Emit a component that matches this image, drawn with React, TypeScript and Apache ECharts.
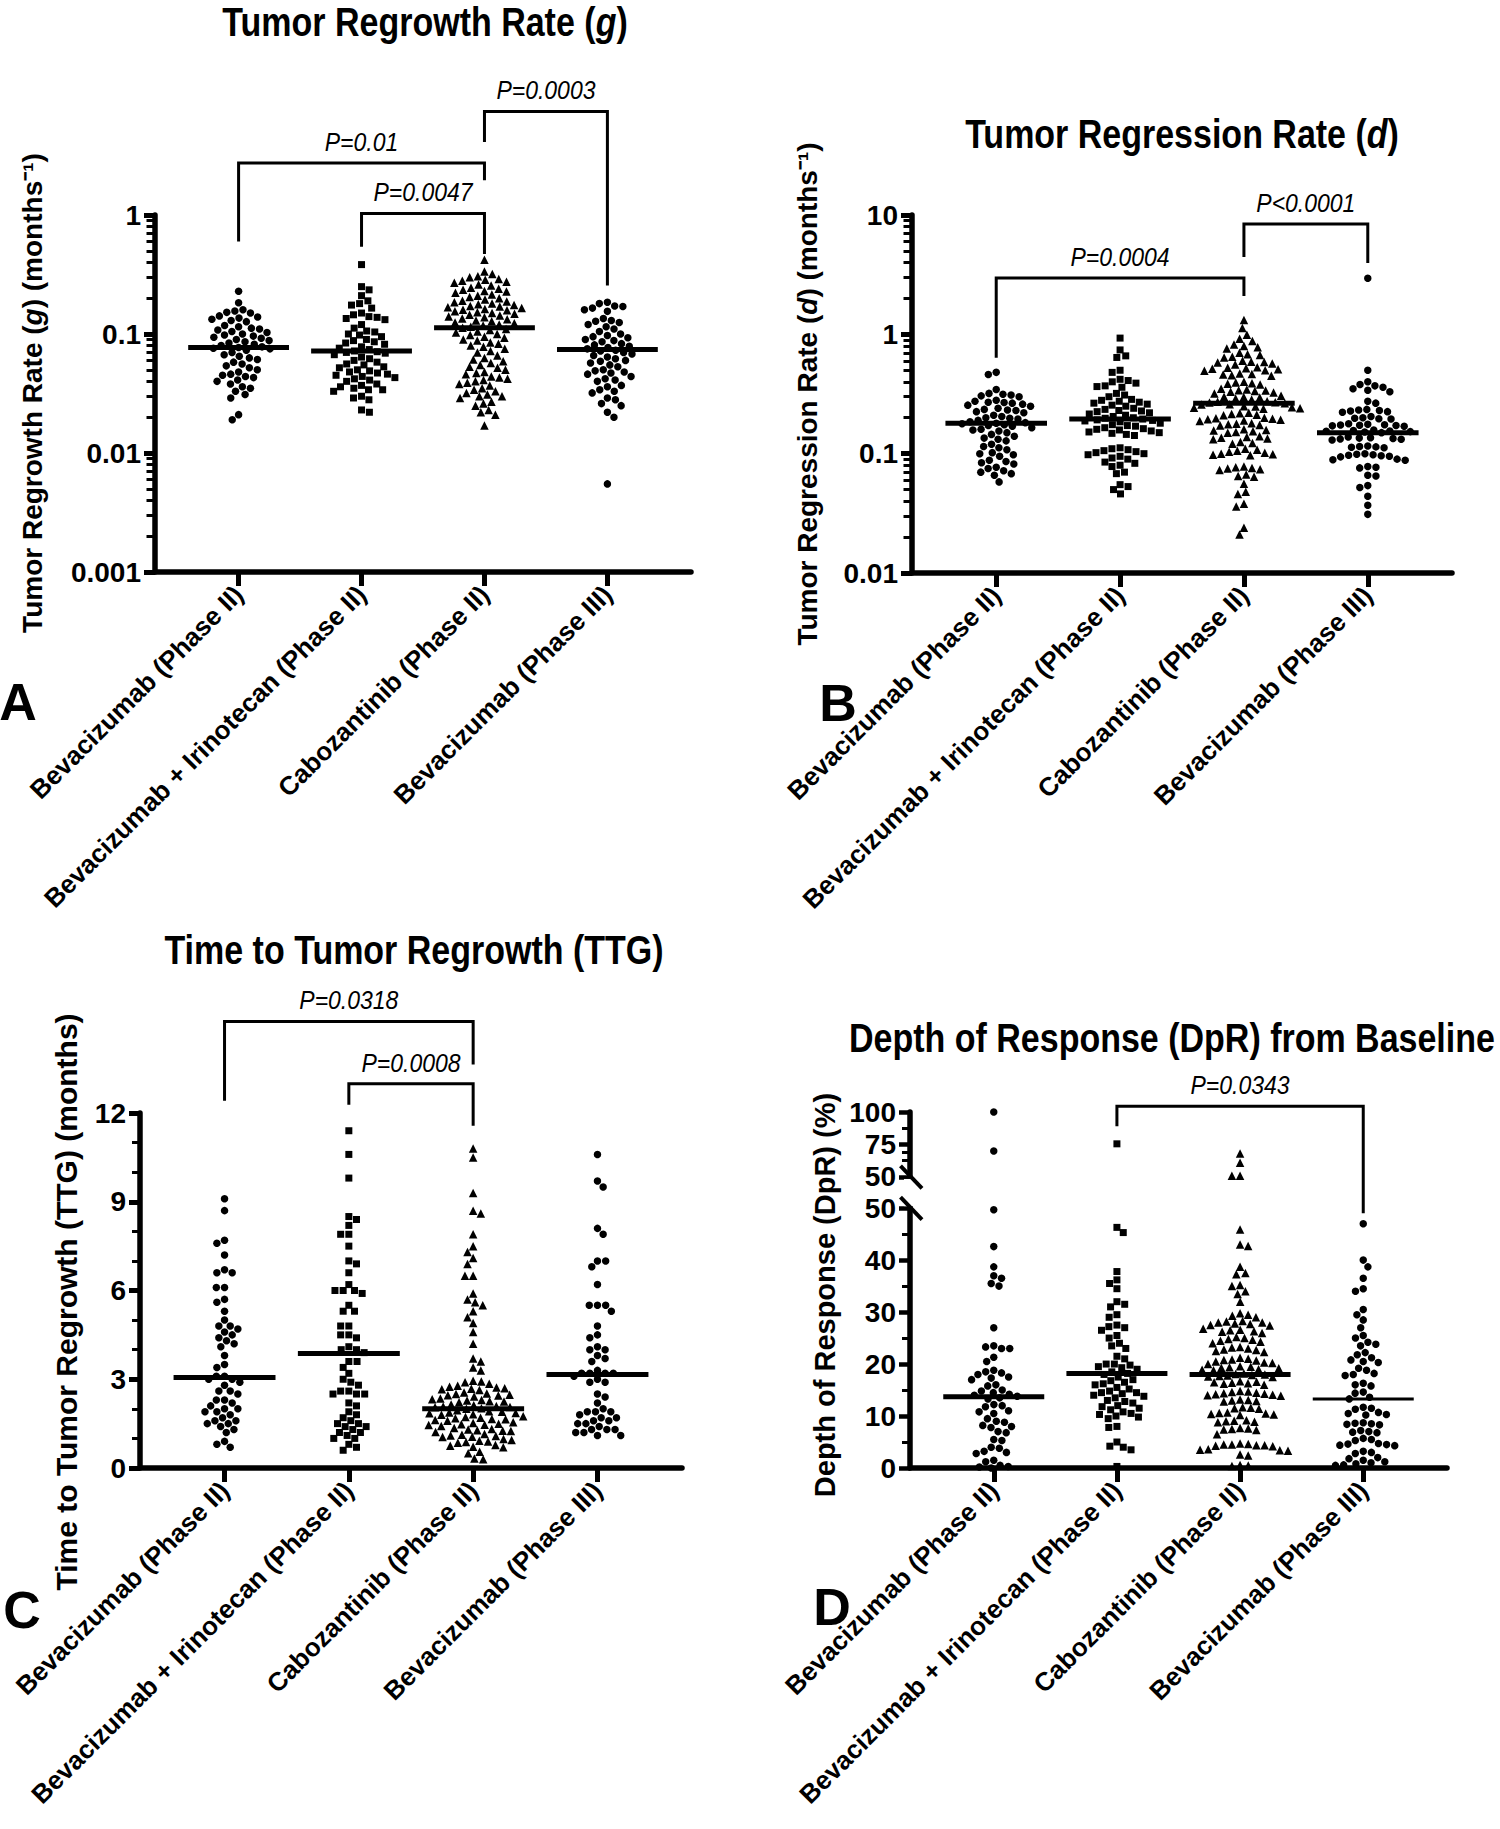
import React, { useEffect, useRef } from 'react';
import * as echarts from 'echarts';

// ---------- categories & tick labels ----------
const categories = [
  'Bevacizumab (Phase II)',
  'Bevacizumab + Irinotecan (Phase II)',
  'Cabozantinib (Phase II)',
  'Bevacizumab (Phase III)',
];
const groupSymbols = ['circle', 'rect', 'triangle', 'circle'];
const groupSymbolSizes = [7.5, 7, 8.5, 7.5];

const regrowthTickLabels = ['0.001', '0.01', '0.1', '1'];
const regressionTickLabels = ['0.01', '0.1', '1', '10'];
const ttgMinorTicks = [1, 2, 4, 5, 7, 8, 10, 11];
const dprLowerLabels = [0, 10, 20, 30, 40, 50];
const dprLowerMinor = [5, 15, 25, 35, 45];
const dprUpperLabels = [50, 75, 100];
const dprUpperMinor = [62.5, 68.75, 87.5];

// ---------- A: Tumor regrowth rate g (months^-1) ----------
const regrowthBevII = [0.229, 0.183, 0.16, 0.156, 0.152, 0.15, 0.142, 0.139, 0.136, 0.133, 0.13, 0.127, 0.118, 0.115, 0.112, 0.11, 0.108, 0.105, 0.103, 0.1, 0.098, 0.096, 0.094, 0.092, 0.09, 0.088, 0.086, 0.084, 0.082, 0.08, 0.078, 0.077, 0.076, 0.075, 0.073, 0.07, 0.067, 0.065, 0.063, 0.061, 0.058, 0.056, 0.054, 0.052, 0.05, 0.048, 0.046, 0.045, 0.044, 0.043, 0.041, 0.04, 0.038, 0.036, 0.035, 0.033, 0.031, 0.029, 0.021, 0.019];
const regrowthBevIri = [0.383, 0.25, 0.235, 0.21, 0.19, 0.18, 0.175, 0.165, 0.15, 0.145, 0.14, 0.138, 0.135, 0.132, 0.12, 0.112, 0.106, 0.104, 0.1, 0.098, 0.095, 0.09, 0.088, 0.086, 0.084, 0.082, 0.078, 0.076, 0.074, 0.072, 0.071, 0.07, 0.069, 0.067, 0.064, 0.062, 0.06, 0.058, 0.056, 0.055, 0.053, 0.052, 0.05, 0.049, 0.048, 0.047, 0.046, 0.045, 0.044, 0.043, 0.042, 0.041, 0.04, 0.038, 0.037, 0.036, 0.035, 0.034, 0.034, 0.033, 0.03, 0.029, 0.028, 0.023, 0.022];
const regrowthCabo = [0.42, 0.335, 0.32, 0.305, 0.3, 0.29, 0.285, 0.28, 0.275, 0.27, 0.26, 0.255, 0.245, 0.24, 0.235, 0.23, 0.228, 0.222, 0.215, 0.21, 0.205, 0.2, 0.195, 0.19, 0.188, 0.185, 0.18, 0.178, 0.175, 0.172, 0.17, 0.168, 0.165, 0.162, 0.16, 0.158, 0.155, 0.152, 0.15, 0.148, 0.145, 0.143, 0.14, 0.138, 0.135, 0.133, 0.13, 0.128, 0.125, 0.123, 0.12, 0.118, 0.115, 0.113, 0.11, 0.108, 0.105, 0.103, 0.1, 0.098, 0.095, 0.093, 0.09, 0.088, 0.085, 0.083, 0.08, 0.078, 0.075, 0.072, 0.07, 0.066, 0.063, 0.061, 0.059, 0.057, 0.055, 0.053, 0.052, 0.05, 0.048, 0.047, 0.046, 0.044, 0.043, 0.042, 0.041, 0.04, 0.039, 0.038, 0.037, 0.035, 0.034, 0.033, 0.032, 0.031, 0.03, 0.03, 0.029, 0.027, 0.026, 0.025, 0.023, 0.022, 0.021, 0.017];
const regrowthBevIII = [0.185, 0.18, 0.172, 0.17, 0.165, 0.16, 0.155, 0.135, 0.13, 0.128, 0.125, 0.12, 0.115, 0.11, 0.105, 0.1, 0.097, 0.095, 0.093, 0.09, 0.088, 0.086, 0.083, 0.081, 0.079, 0.077, 0.075, 0.073, 0.072, 0.07, 0.068, 0.066, 0.064, 0.062, 0.06, 0.059, 0.057, 0.055, 0.053, 0.05, 0.049, 0.048, 0.047, 0.046, 0.044, 0.042, 0.041, 0.04, 0.037, 0.036, 0.034, 0.033, 0.032, 0.029, 0.028, 0.026, 0.025, 0.022, 0.02, 0.0055];
const regrowthMedians = [0.077, 0.072, 0.113, 0.074];

// ---------- B: Tumor regression rate d (months^-1) ----------
const regressionBevII = [0.48, 0.46, 0.345, 0.32, 0.315, 0.31, 0.305, 0.3, 0.28, 0.275, 0.27, 0.268, 0.265, 0.26, 0.255, 0.25, 0.24, 0.235, 0.232, 0.23, 0.225, 0.22, 0.21, 0.205, 0.2, 0.198, 0.195, 0.19, 0.185, 0.182, 0.18, 0.178, 0.175, 0.172, 0.17, 0.165, 0.16, 0.158, 0.155, 0.15, 0.145, 0.14, 0.135, 0.132, 0.128, 0.12, 0.115, 0.112, 0.108, 0.102, 0.1, 0.098, 0.095, 0.088, 0.086, 0.084, 0.082, 0.077, 0.075, 0.072, 0.07, 0.068, 0.066, 0.058];
const regressionBevIri = [0.93, 0.74, 0.66, 0.64, 0.5, 0.48, 0.42, 0.41, 0.4, 0.39, 0.37, 0.365, 0.36, 0.32, 0.31, 0.3, 0.285, 0.28, 0.275, 0.27, 0.265, 0.26, 0.255, 0.25, 0.24, 0.235, 0.23, 0.228, 0.225, 0.22, 0.215, 0.21, 0.205, 0.2, 0.198, 0.195, 0.192, 0.19, 0.188, 0.185, 0.18, 0.175, 0.172, 0.17, 0.165, 0.162, 0.16, 0.158, 0.155, 0.152, 0.15, 0.148, 0.145, 0.142, 0.112, 0.11, 0.108, 0.106, 0.104, 0.102, 0.1, 0.098, 0.095, 0.092, 0.09, 0.085, 0.083, 0.08, 0.078, 0.07, 0.068, 0.055, 0.053, 0.05, 0.046];
const regressionCabo = [1.32, 1.13, 0.99, 0.92, 0.88, 0.82, 0.8, 0.78, 0.76, 0.7, 0.68, 0.67, 0.65, 0.64, 0.6, 0.59, 0.585, 0.58, 0.57, 0.56, 0.53, 0.525, 0.52, 0.515, 0.51, 0.5, 0.495, 0.47, 0.465, 0.46, 0.455, 0.45, 0.4, 0.395, 0.39, 0.385, 0.38, 0.35, 0.345, 0.34, 0.338, 0.335, 0.33, 0.325, 0.32, 0.305, 0.3, 0.298, 0.295, 0.29, 0.285, 0.275, 0.272, 0.27, 0.268, 0.265, 0.26, 0.258, 0.25, 0.248, 0.245, 0.242, 0.24, 0.238, 0.22, 0.218, 0.215, 0.212, 0.21, 0.2, 0.198, 0.196, 0.194, 0.192, 0.19, 0.188, 0.18, 0.178, 0.176, 0.174, 0.172, 0.16, 0.158, 0.156, 0.154, 0.152, 0.15, 0.14, 0.138, 0.136, 0.134, 0.132, 0.125, 0.123, 0.121, 0.11, 0.108, 0.106, 0.104, 0.102, 0.1, 0.099, 0.098, 0.097, 0.078, 0.077, 0.076, 0.075, 0.074, 0.073, 0.067, 0.065, 0.064, 0.056, 0.048, 0.046, 0.038, 0.036, 0.024, 0.021];
const regressionBevIII = [2.95, 0.5, 0.4, 0.38, 0.37, 0.36, 0.35, 0.34, 0.33, 0.275, 0.265, 0.235, 0.232, 0.23, 0.228, 0.225, 0.222, 0.205, 0.2, 0.198, 0.196, 0.195, 0.178, 0.176, 0.175, 0.174, 0.173, 0.172, 0.171, 0.17, 0.158, 0.156, 0.155, 0.154, 0.153, 0.152, 0.15, 0.138, 0.136, 0.135, 0.134, 0.133, 0.132, 0.13, 0.116, 0.115, 0.114, 0.113, 0.112, 0.1, 0.099, 0.098, 0.097, 0.096, 0.095, 0.094, 0.09, 0.089, 0.088, 0.078, 0.077, 0.076, 0.066, 0.065, 0.054, 0.052, 0.044, 0.037, 0.031];
const regressionMedians = [0.18, 0.195, 0.265, 0.15];

// ---------- C: Time to tumor regrowth (months) ----------
const ttgBevII = [9.1, 8.7, 7.7, 7.6, 7.2, 6.7, 6.6, 6.6, 6.1, 6.1, 5.7, 5.6, 5.3, 5.0, 4.8, 4.8, 4.7, 4.6, 4.5, 4.4, 4.3, 4.2, 4.1, 3.8, 3.5, 3.4, 3.1, 3.1, 3.0, 3.0, 2.9, 2.8, 2.6, 2.6, 2.5, 2.3, 2.3, 2.2, 2.1, 2.0, 2.0, 1.9, 1.9, 1.8, 1.7, 1.6, 1.6, 1.5, 1.5, 1.4, 1.3, 1.2, 0.9, 0.8, 0.7];
const ttgBevIri = [11.4, 10.6, 9.8, 8.5, 8.4, 8.2, 7.9, 7.9, 7.5, 7.0, 6.9, 6.6, 6.2, 6.0, 6.0, 6.0, 5.9, 5.5, 5.3, 5.3, 4.8, 4.8, 4.5, 4.5, 4.4, 4.1, 4.0, 4.0, 3.9, 3.6, 3.6, 3.4, 3.2, 3.0, 2.9, 2.8, 2.6, 2.6, 2.5, 2.5, 2.5, 2.2, 2.1, 1.9, 1.8, 1.7, 1.6, 1.5, 1.5, 1.4, 1.4, 1.3, 1.2, 1.2, 1.1, 1.0, 1.0, 0.8, 0.7, 0.6];
const ttgCabo = [10.8, 10.5, 9.3, 8.7, 8.6, 7.9, 7.5, 7.3, 7.1, 6.9, 6.5, 6.5, 5.9, 5.7, 5.6, 5.5, 5.3, 5.1, 4.9, 4.6, 4.2, 3.7, 3.6, 3.4, 3.3, 2.95, 2.92, 2.9, 2.85, 2.78, 2.75, 2.72, 2.7, 2.68, 2.66, 2.64, 2.55, 2.52, 2.5, 2.48, 2.46, 2.45, 2.42, 2.35, 2.32, 2.3, 2.28, 2.26, 2.25, 2.22, 2.15, 2.12, 2.1, 2.08, 2.06, 2.05, 2.02, 2.0, 1.95, 1.92, 1.9, 1.88, 1.86, 1.85, 1.82, 1.8, 1.75, 1.72, 1.7, 1.68, 1.66, 1.65, 1.62, 1.6, 1.55, 1.52, 1.5, 1.48, 1.46, 1.45, 1.42, 1.35, 1.32, 1.3, 1.28, 1.26, 1.25, 1.22, 1.15, 1.12, 1.1, 1.08, 1.06, 1.05, 0.98, 0.95, 0.92, 0.9, 0.88, 0.85, 0.78, 0.75, 0.72, 0.7, 0.55, 0.5, 0.32, 0.3];
const ttgBevIII = [10.6, 9.7, 9.5, 8.1, 7.9, 7.0, 7.0, 6.8, 6.2, 5.5, 5.5, 5.5, 5.3, 4.8, 4.5, 4.4, 4.1, 4.0, 4.0, 3.8, 3.7, 3.6, 3.3, 3.2, 3.2, 3.2, 3.2, 3.1, 3.0, 2.9, 2.9, 2.5, 2.4, 2.2, 2.0, 1.9, 1.9, 1.9, 1.8, 1.7, 1.7, 1.6, 1.6, 1.5, 1.5, 1.4, 1.3, 1.3, 1.3, 1.2, 1.2, 1.1, 1.1];
const ttgMedians = [3.06, 3.87, 2.0, 3.16];

// ---------- D: Depth of response (%) ----------
const dprBevII = [100, 70, 49.7, 42.6, 38.7, 37, 36.5, 35.5, 35, 27, 23.5, 23.3, 23, 23, 21.3, 20.5, 18.8, 18.5, 18.3, 18, 17.5, 17.3, 17, 16, 15.8, 15, 14.8, 14.5, 14.2, 14, 13.8, 13.5, 13.3, 12.2, 12, 11.8, 11, 10.8, 10.5, 9.5, 9, 8.8, 8.2, 8, 7.8, 7, 6.8, 5.5, 5.3, 4, 3.8, 3.2, 3, 2.8, 1.5, 1.2, 0.5, 0.3, 0.2, 0];
const dprBevIri = [75.5, 46.3, 45.3, 37.8, 36.2, 35.5, 34.5, 32, 31.5, 31, 29.5, 29, 27.5, 27.2, 27, 26.5, 25.5, 25, 24, 23.5, 23, 21.5, 21, 20, 20, 19.8, 19.5, 19.3, 19, 18.5, 18.2, 18, 17.5, 17, 16.8, 16.5, 16.2, 16, 15.5, 15.2, 14.8, 14.5, 14.5, 14.3, 14, 13.8, 13.5, 13, 12.8, 12.5, 12, 11.8, 11.5, 11.2, 10.8, 10.5, 10.3, 10, 9.8, 9.5, 8, 7.8, 5, 4.2, 4, 3.5, 0.3];
const dprCabo = [68, 61, 51, 51, 45.9, 43, 42.7, 38.7, 37.5, 37.3, 35.2, 35, 34, 33.5, 32, 29.8, 29.5, 29.3, 29, 28.3, 28.2, 28, 28, 27.8, 27.7, 27.5, 27.4, 26.8, 26.6, 26.5, 26.3, 26.2, 26, 25.2, 25, 24.8, 24.7, 24.5, 24.3, 24, 23.3, 23.2, 23, 22.8, 22.7, 22.5, 22.3, 21.2, 21, 20.9, 20.8, 20.7, 20.5, 20.3, 20.2, 20, 19.6, 19.5, 19.4, 19.3, 19.2, 19, 18.9, 18.8, 18.2, 18.1, 18, 17.9, 17.8, 17.7, 17.6, 17.5, 16.7, 16.6, 16.5, 16.4, 16.3, 16.2, 16, 14.8, 14.7, 14.6, 14.5, 14.4, 14.3, 14.2, 14.1, 14, 13.9, 13.2, 13.1, 13, 12.9, 12.8, 11.7, 11.6, 11.5, 11.4, 10.7, 10.6, 10.5, 10.4, 10.3, 10.2, 9.2, 9.1, 9, 8.9, 8.8, 7.7, 7.6, 7.5, 7.4, 7.3, 6.5, 4.7, 4.6, 4.5, 4.5, 4.4, 4.4, 4.3, 4.2, 3.6, 3.5, 3.4, 3.3, 2.6, 2.4, 0.6, 0.5, 0.4];
const dprBevIII = [47, 40, 38.7, 36.5, 34.5, 34, 30.5, 29.5, 28.5, 27, 25.5, 25, 24.2, 23.8, 23.5, 22.2, 21.8, 21.2, 20.8, 20.5, 20.3, 19.2, 18.8, 18.2, 18, 17.8, 16.3, 16, 15.8, 14.6, 14.4, 13.6, 13.3, 11.7, 11.5, 11.3, 10.7, 10.5, 10.3, 10.2, 8.7, 8.6, 8.5, 8.4, 8.3, 7.2, 7, 6.9, 6.8, 5.7, 5.5, 5.3, 4.7, 4.6, 4.5, 4.4, 4.3, 3.2, 3, 2.8, 2, 1.8, 1.5, 1.2, 1, 0.8, 0.6, 0.5];
const dprMedians = [13.7, 18.2, 18.0, 13.3];

// ---------- significance brackets (y in data units) ----------
const regrowthBrackets = [
  { from: 0, to: 2, top: 2.73, leftEnd: 0.6, rightEnd: 1.96, label: 'P=0.01' },
  { from: 1, to: 2, top: 1.03, leftEnd: 0.54, rightEnd: 0.47, label: 'P=0.0047' },
  { from: 2, to: 3, top: 7.4, leftEnd: 4.1, rightEnd: 0.255, label: 'P=0.0003' },
];
const regressionBrackets = [
  { from: 0, to: 2, top: 2.97, leftEnd: 0.636, rightEnd: 2.1, label: 'P=0.0004' },
  { from: 2, to: 3, top: 8.4, leftEnd: 4.45, rightEnd: 3.96, label: 'P<0.0001' },
];
const ttgBrackets = [
  { from: 0, to: 2, top: 15.09, leftEnd: 12.41, rightEnd: 13.64, label: 'P=0.0318' },
  { from: 1, to: 2, top: 12.99, leftEnd: 12.28, rightEnd: 11.57, label: 'P=0.0008' },
];
const dprBrackets = [
  { from: 1, to: 3, top: 104.4, leftEnd: 89, rightEnd: 49, label: 'P=0.0343' },
];

// ---------- styling ----------
const SANS = "'Liberation Sans', Arial, Helvetica, sans-serif";
const X_MIN = -0.68;
const X_MAX = 3.68;

// broken axis for panel D: 0-50 linear, then 50-100 compressed above a gap
const DPR_BREAK = 56;
const dprUpper = (v: number) => DPR_BREAK + (v - 50) * 0.25;
const dprScale = (v: number) => (v <= 50 ? v : dprUpper(v));
const dprUnscale = (d: number) => (d <= 50.001 ? d : 50 + (d - DPR_BREAK) / 0.25);

const logMinor = (lo: number, hi: number) => {
  const out: number[] = [];
  for (let d = lo; d < hi; d++) for (let k = 2; k <= 9; k++) out.push(d + Math.log10(k));
  return out;
};

interface Panel {
  grid: { left: number; top: number; width: number; height: number };
  yMin: number;
  yMax: number;
  tf: (v: number) => number;
  groups: number[][];
  medians: number[];
  brackets: { from: number; to: number; top: number; leftEnd: number; rightEnd: number; label: string }[];
}

const panels: Panel[] = [
  { grid: { left: 155, top: 215, width: 536, height: 357 }, yMin: -3, yMax: 0, tf: Math.log10,
    groups: [regrowthBevII, regrowthBevIri, regrowthCabo, regrowthBevIII], medians: regrowthMedians, brackets: regrowthBrackets },
  { grid: { left: 912, top: 215, width: 540, height: 358 }, yMin: -2, yMax: 1, tf: Math.log10,
    groups: [regressionBevII, regressionBevIri, regressionCabo, regressionBevIII], medians: regressionMedians, brackets: regressionBrackets },
  { grid: { left: 140, top: 1113, width: 542, height: 355 }, yMin: 0, yMax: 12, tf: (v) => v,
    groups: [ttgBevII, ttgBevIri, ttgCabo, ttgBevIII], medians: ttgMedians, brackets: ttgBrackets },
  { grid: { left: 910, top: 1112, width: 537, height: 356 }, yMin: 0, yMax: 68.5, tf: dprScale,
    groups: [dprBevII, dprBevIri, dprCabo, dprBevIII], medians: dprMedians, brackets: dprBrackets },
];

// beeswarm layout: returns horizontal pixel offsets
function swarm(pys: number[], diam: number): number[] {
  const order = pys.map((_, i) => i).sort((a, b) => pys[a] - pys[b]);
  const placed: { x: number; y: number }[] = [];
  const out = new Array(pys.length).fill(0);
  let toggle = 0;
  for (const i of order) {
    const y = pys[i];
    const iv: [number, number][] = [];
    for (const p of placed) {
      const dy = Math.abs(p.y - y);
      if (dy < diam) {
        const w = Math.sqrt(diam * diam - dy * dy);
        iv.push([p.x - w, p.x + w]);
      }
    }
    const cands = [0];
    for (const [a, b] of iv) cands.push(a, b);
    const pref = toggle % 2 === 0 ? 1 : -1;
    cands.sort((a, b) => Math.abs(a) - Math.abs(b) || (b - a) * pref);
    let chosen = 0;
    for (const c of cands) {
      if (iv.every(([a, b]) => c <= a + 1e-6 || c >= b - 1e-6)) { chosen = c; break; }
    }
    toggle++;
    placed.push({ x: chosen, y });
    out[i] = chosen;
  }
  return out;
}

function buildOption() {
  const grid: any[] = [];
  const xAxis: any[] = [];
  const yAxis: any[] = [];
  const series: any[] = [];

  panels.forEach((p, pi) => {
    grid.push({ ...p.grid, containLabel: false });
    xAxis.push({
      type: 'value', gridIndex: pi, min: X_MIN, max: X_MAX,
      axisLine: { onZero: false, lineStyle: { color: '#000', width: 5.5 } },
      splitLine: { show: false },
      axisTick: { customValues: [0, 1, 2, 3], length: 14, lineStyle: { color: '#000', width: 5 } },
      axisLabel: {
        customValues: [0, 1, 2, 3], rotate: 45, margin: 18, color: '#000',
        fontFamily: SANS, fontWeight: 'bold', fontSize: 26,
        formatter: (v: number) => categories[Math.round(v)] || '',
      },
    });
    const labelStyle = { color: '#000', fontFamily: SANS, fontWeight: 'bold', fontSize: 28, margin: 14 };
    let main: any;
    let minor: any;
    if (pi === 0 || pi === 1) {
      const labels = pi === 0 ? regrowthTickLabels : regressionTickLabels;
      main = {
        min: p.yMin, max: p.yMax, interval: 1,
        axisTick: { length: 11, lineStyle: { color: '#000', width: 5 } },
        axisLabel: { ...labelStyle, formatter: (v: number) => labels[Math.round(v - p.yMin)] || '' },
      };
      minor = { min: p.yMin, max: p.yMax, axisTick: { customValues: logMinor(p.yMin, p.yMax), length: 8.5, lineStyle: { color: '#000', width: 3 } } };
    } else if (pi === 2) {
      main = {
        min: 0, max: 12, interval: 3,
        axisTick: { length: 11, lineStyle: { color: '#000', width: 5 } },
        axisLabel: { ...labelStyle },
      };
      minor = { min: 0, max: 12, axisTick: { customValues: ttgMinorTicks, length: 8, lineStyle: { color: '#000', width: 3 } } };
    } else {
      const majors = [...dprLowerLabels, ...dprUpperLabels.map(dprUpper)];
      main = {
        min: 0, max: p.yMax,
        axisTick: { customValues: majors, length: 11, lineStyle: { color: '#000', width: 4.5 } },
        axisLabel: { ...labelStyle, customValues: majors, formatter: (d: number) => String(Math.round(dprUnscale(d))) },
      };
      minor = { min: 0, max: p.yMax, axisTick: { customValues: [...dprLowerMinor, ...dprUpperMinor.map(dprUpper)], length: 8, lineStyle: { color: '#000', width: 3 } } };
    }
    yAxis.push({
      type: 'value', gridIndex: pi, position: 'left', ...main,
      axisLine: { show: true, onZero: false, lineStyle: { color: '#000', width: 5.5 } },
      splitLine: { show: false },
    });
    yAxis.push({
      type: 'value', gridIndex: pi, position: 'left', ...minor,
      axisLine: { show: false, onZero: false },
      axisLabel: { show: false },
      splitLine: { show: false },
    });

    const pxPerCat = p.grid.width / (X_MAX - X_MIN);
    const toPy = (t: number) => p.grid.top + (p.grid.height * (p.yMax - t)) / (p.yMax - p.yMin);
    p.groups.forEach((vals, gi) => {
      const ts = vals.map(p.tf);
      const offs = swarm(ts.map(toPy), 8.2);
      series.push({
        type: 'scatter', xAxisIndex: pi, yAxisIndex: pi * 2,
        symbol: groupSymbols[gi], symbolSize: groupSymbolSizes[gi],
        itemStyle: { color: '#000', opacity: 1 },
        silent: true, clip: false,
        data: ts.map((t, i) => [gi + offs[i] / pxPerCat, t]),
      });
    });
    p.medians.forEach((m, gi) => {
      const t = p.tf(m);
      series.push({
        type: 'line', xAxisIndex: pi, yAxisIndex: pi * 2, symbol: 'none', silent: true, z: 5,
        lineStyle: { color: '#000', width: pi === 3 && gi === 3 ? 3 : 5, cap: 'butt' },
        data: [[gi - 0.41, t], [gi + 0.41, t]],
      });
    });
  });

  return { animation: false, backgroundColor: '#fff', grid, xAxis, yAxis, series };
}

const richFont = (size: number, italic: boolean) => ({
  fontFamily: SANS, fontSize: size, fontWeight: 'bold', fontStyle: italic ? 'italic' : 'normal', fill: '#000',
});

function richText(x: number, y: number, text: string, size: number, rotate = 0, scaleX = 1) {
  return {
    type: 'text', x, y, rotation: rotate, scaleX, z: 100,
    style: {
      legacy: false, text, align: 'center', verticalAlign: 'middle', fill: '#000',
      fontFamily: SANS, fontSize: size, fontWeight: 'bold',
      rich: { b: richFont(size, false), bi: richFont(size, true) },
    },
  };
}

function plainText(x: number, y: number, text: string, size: number, weight: string, style: string, scaleX = 1) {
  return {
    type: 'text', x, y, z: 100, scaleX,
    style: { legacy: false, text, align: 'center', verticalAlign: 'middle', fill: '#000', fontFamily: SANS, fontSize: size, fontWeight: weight, fontStyle: style },
  };
}

const titleTexts = [
  '{b|Tumor Regrowth Rate (}{bi|g}{b|)}',
  '{b|Tumor Regression Rate (}{bi|d}{b|)}',
  '{b|Time to Tumor Regrowth (TTG)}',
  '{b|Depth of Response (DpR) from Baseline}',
];
const titlePos = [[425, 22], [1182, 134], [414, 950], [1172, 1038]];
const yNameTexts = [
  '{b|Tumor Regrowth Rate (}{bi|g}{b|) (months⁻¹)}',
  '{b|Tumor Regression Rate (}{bi|d}{b|) (months⁻¹)}',
  '{b|Time to Tumor Regrowth (TTG) (months)}',
  '{b|Depth of Response (DpR) (%)}',
];
const yNamePos = [[32, 393], [807, 394], [66, 1302], [825, 1295]];
const yNameSize = [28, 28, 30, 29];
const panelLetters = ['A', 'B', 'C', 'D'];
const letterPos = [[18, 702], [838, 703], [22, 1610], [832, 1607]];

function buildGraphics(chart: any) {
  const els: any[] = [];
  titleTexts.forEach((t, i) => els.push(richText(titlePos[i][0], titlePos[i][1], t, 40, 0, 0.85)));
  yNameTexts.forEach((t, i) => els.push(richText(yNamePos[i][0], yNamePos[i][1], t, yNameSize[i], Math.PI / 2)));
  panelLetters.forEach((t, i) => els.push(plainText(letterPos[i][0], letterPos[i][1], t, 52, 'bold', 'normal')));

  panels.forEach((p, pi) => {
    const toPx = (x: number, y: number) => chart.convertToPixel({ xAxisIndex: pi, yAxisIndex: pi * 2 }, [x, p.tf(y)]);
    p.brackets.forEach((b) => {
      const a = toPx(b.from, b.leftEnd);
      const c = toPx(b.from, b.top);
      const d = toPx(b.to, b.top);
      const e = toPx(b.to, b.rightEnd);
      els.push({
        type: 'polyline', z: 100,
        shape: { points: [a, c, d, e] },
        style: { stroke: '#000', lineWidth: 3, fill: null, lineJoin: 'miter' },
      });
      els.push(plainText((c[0] + d[0]) / 2, c[1] - 21, b.label, 25, 'normal', 'italic', 0.92));
    });
  });

  // axis break on panel D
  const yLow = chart.convertToPixel({ xAxisIndex: 3, yAxisIndex: 6 }, [X_MIN, 50]);
  const yUp = chart.convertToPixel({ xAxisIndex: 3, yAxisIndex: 6 }, [X_MIN, DPR_BREAK]);
  const ax = yLow[0];
  els.push({ type: 'rect', z: 99, shape: { x: ax - 6, y: yUp[1] + 2, width: 12, height: yLow[1] - yUp[1] - 4 }, style: { fill: '#fff' } });
  [yUp[1], yLow[1]].forEach((yy) => {
    els.push({ type: 'line', z: 101, shape: { x1: ax - 9.5, y1: yy - 11, x2: ax + 12, y2: yy + 11.5 }, style: { stroke: '#000', lineWidth: 4 } });
  });
  return els;
}

export default function App() {
  const ref = useRef<HTMLDivElement>(null);
  useEffect(() => {
    const chart = echarts.init(ref.current as HTMLDivElement, null, { renderer: 'svg' });
    chart.setOption(buildOption() as any);
    chart.setOption({ graphic: { elements: buildGraphics(chart) } } as any);
    return () => chart.dispose();
  }, []);
  return (
    <div
      ref={ref}
      style={{ position: 'absolute', left: 0, top: 0, width: 1500, height: 1829, background: '#fff' }}
    />
  );
}
